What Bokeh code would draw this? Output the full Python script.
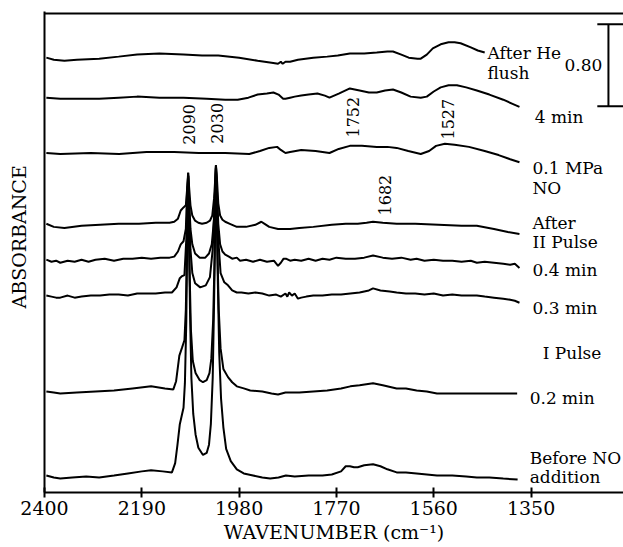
import numpy as np
from bokeh.plotting import figure
from bokeh.models import Range1d, FixedTicker, Span
from bokeh.core.properties import value
from bokeh.embed import file_html
from bokeh.resources import INLINE

# ---------------- data (wavenumber cm-1, relative absorbance) ----------------
after_he = [(2396,0.00),(2380,-0.02),(2357,-0.03),(2330,-0.02),(2282,-0.01),(2240,0.01),(2200,0.03),
            (2152,0.04),(2100,0.03),(2060,0.02),(2025,0.02),(1980,0.00),(1940,-0.03),(1910,-0.05),
            (1896,-0.06),(1890,-0.04),(1886,-0.06),(1880,-0.04),(1870,-0.04),(1853,-0.02),(1820,0.00),
            (1790,0.01),(1767,0.02),(1741,0.04),(1710,0.04),(1683,0.05),(1660,0.06),(1648,0.06),
            (1630,0.03),(1614,0.00),(1595,-0.01),(1588,-0.01),(1575,0.03),(1562,0.09),(1545,0.13),
            (1528,0.15),(1515,0.15),(1502,0.14),(1480,0.10),(1465,0.07),(1450,0.05)]

four_min = [(2396,0.00),(2366,-0.01),(2330,-0.01),(2282,-0.01),(2240,0.00),(2200,0.01),(2152,0.00),
            (2100,0.00),(2050,-0.01),(2010,-0.02),(1983,-0.02),(1960,0.00),(1940,0.03),(1920,0.04),
            (1906,0.05),(1895,0.03),(1885,-0.01),(1880,-0.01),(1870,0.00),(1860,0.01),(1846,0.02),
            (1830,0.03),(1811,0.04),(1795,0.02),(1785,0.00),(1765,0.04),(1741,0.09),(1720,0.07),
            (1700,0.05),(1683,0.05),(1665,0.07),(1648,0.08),(1630,0.05),(1610,0.01),(1588,0.00),
            (1575,0.01),(1560,0.06),(1545,0.10),(1528,0.12),(1510,0.12),(1490,0.10),(1467,0.07),
            (1440,0.03),(1410,-0.02),(1390,-0.06),(1375,-0.09)]

mpa_no = [(2396,0.00),(2366,-0.01),(2300,0.00),(2239,-0.01),(2180,0.01),(2120,0.01),(2067,0.00),
          (2010,0.00),(1958,-0.01),(1935,0.02),(1915,0.05),(1898,0.06),(1890,0.03),(1880,0.00),
          (1870,0.01),(1846,0.03),(1815,0.02),(1785,0.00),(1765,0.04),(1741,0.07),(1715,0.07),
          (1683,0.06),(1660,0.06),(1640,0.05),(1615,0.02),(1588,-0.01),(1570,0.02),(1555,0.07),
          (1536,0.09),(1515,0.08),(1484,0.06),(1450,0.02),(1420,-0.02),(1395,-0.06),(1375,-0.09)]

after_ii = [(2396,0.00),(2380,-0.03),(2357,-0.04),(2320,-0.02),(2280,-0.01),(2240,0.00),(2196,0.00),
            (2160,0.01),(2130,0.01),(2120,0.02),(2112,0.05),(2106,0.13),(2100,0.16),(2095,0.18),
            (2092,0.35),(2090,0.50),(2088,0.36),(2085,0.18),(2081,0.08),(2075,0.03),(2068,0.01),
            (2060,0.00),(2050,0.01),(2043,0.03),(2038,0.08),(2034,0.25),(2031,0.48),(2030,0.57),
            (2028,0.45),(2025,0.20),(2021,0.08),(2016,0.04),(2010,0.02),(2000,0.00),(1985,-0.03),
            (1965,-0.03),(1945,-0.01),(1932,0.02),(1925,0.00),(1915,-0.03),(1896,-0.05),(1870,-0.05),
            (1850,-0.04),(1820,-0.03),(1780,-0.01),(1750,0.00),(1724,0.00),(1705,0.01),(1691,0.02),
            (1670,0.01),(1640,0.00),(1600,0.00),(1550,-0.01),(1500,-0.02),(1467,-0.02),(1430,-0.05),
            (1400,-0.08),(1375,-0.10)]

min_04 = [(2396,0.00),(2385,-0.02),(2375,-0.01),(2366,-0.03),(2350,-0.01),(2335,-0.02),(2320,0.00),
          (2305,-0.02),(2290,0.00),(2270,0.01),(2250,-0.01),(2230,0.01),(2210,0.01),(2190,0.02),
          (2170,0.01),(2150,0.02),(2130,0.02),(2120,0.03),(2112,0.08),(2106,0.15),(2100,0.18),
          (2095,0.30),(2092,0.70),(2090,0.82),(2088,0.60),(2085,0.30),(2081,0.15),(2075,0.06),
          (2065,0.02),(2053,0.02),(2045,0.06),(2039,0.15),(2034,0.40),(2031,0.80),(2030,0.92),
          (2028,0.70),(2025,0.35),(2021,0.15),(2016,0.08),(2010,0.05),(2002,0.03),(1995,0.01),
          (1985,0.02),(1978,-0.01),(1965,0.00),(1950,-0.02),(1935,0.00),(1920,-0.02),(1905,-0.01),
          (1896,-0.06),(1890,-0.03),(1884,0.01),(1879,0.01),(1870,-0.01),(1860,0.00),(1846,-0.01),
          (1830,0.01),(1815,-0.01),(1800,0.01),(1785,0.00),(1770,0.02),(1750,0.01),(1730,0.01),
          (1710,0.02),(1691,0.04),(1670,0.02),(1650,0.01),(1630,0.02),(1610,0.00),(1597,0.01),
          (1580,-0.01),(1560,0.00),(1540,-0.01),(1520,-0.01),(1500,-0.02),(1480,-0.01),(1467,-0.03),
          (1450,-0.02),(1430,-0.03),(1410,-0.04),(1395,-0.05),(1385,-0.04),(1375,-0.08)]

min_03 = [(2396,0.00),(2385,-0.01),(2375,-0.02),(2366,-0.02),(2350,0.00),(2335,-0.02),(2320,-0.01),
          (2300,0.00),(2280,0.00),(2260,0.01),(2240,0.01),(2220,0.00),(2200,0.02),(2180,0.02),
          (2160,0.02),(2140,0.03),(2125,0.03),(2115,0.08),(2108,0.17),(2103,0.19),(2098,0.20),
          (2094,0.55),(2091,1.00),(2090,1.17),(2088,0.85),(2085,0.45),(2081,0.22),(2075,0.12),
          (2064,0.08),(2052,0.10),(2043,0.18),(2037,0.45),(2033,0.90),(2030,1.27),(2028,1.00),
          (2025,0.55),(2020,0.22),(2012,0.13),(2004,0.10),(1995,0.05),(1985,0.03),(1975,0.03),
          (1960,0.02),(1945,0.03),(1930,0.02),(1915,0.00),(1900,0.01),(1890,-0.01),(1880,0.02),
          (1876,-0.01),(1872,0.03),(1866,0.00),(1860,0.02),(1853,-0.03),(1846,-0.02),(1835,-0.01),
          (1820,0.00),(1800,0.00),(1780,0.01),(1760,0.01),(1740,0.02),(1720,0.03),(1700,0.05),
          (1691,0.07),(1675,0.05),(1655,0.04),(1640,0.03),(1620,0.02),(1600,0.02),(1580,0.01),
          (1560,0.02),(1540,0.00),(1520,0.01),(1500,0.00),(1480,0.00),(1467,0.00),(1450,-0.01),
          (1430,-0.02),(1410,-0.03),(1395,-0.04),(1385,-0.05),(1375,-0.07)]

min_02 = [(2396,0.00),(2380,-0.01),(2366,-0.02),(2330,-0.01),(2290,0.00),(2250,0.01),(2210,0.03),
          (2170,0.05),(2140,0.03),(2122,0.02),(2116,0.10),(2109,0.35),(2103,0.43),(2098,0.50),
          (2095,0.80),(2093,1.30),(2091,1.85),(2090,2.10),(2089,1.80),(2087,1.20),(2084,0.60),
          (2080,0.30),(2074,0.18),(2065,0.11),(2058,0.09),(2050,0.11),(2044,0.18),(2040,0.32),
          (2036,0.70),(2033,1.30),(2031,1.90),(2030,2.18),(2029,1.90),(2027,1.40),(2024,0.80),
          (2020,0.42),(2014,0.22),(2004,0.14),(1995,0.09),(1985,0.05),(1970,0.03),(1956,0.01),
          (1930,0.00),(1910,-0.02),(1896,-0.03),(1880,-0.01),(1850,-0.01),(1820,0.00),(1790,0.01),
          (1760,0.03),(1740,0.05),(1720,0.06),(1691,0.08),(1670,0.06),(1640,0.03),(1620,0.03),
          (1597,0.01),(1575,0.00),(1553,-0.02),(1520,-0.02),(1490,-0.02),(1460,-0.02),(1430,-0.02),
          (1400,-0.02),(1380,-0.02)]

before_no = [(2396,0.00),(2380,-0.02),(2366,-0.03),(2340,-0.02),(2310,-0.01),(2282,-0.02),(2250,0.00),
             (2220,0.02),(2190,0.04),(2170,0.05),(2145,0.04),(2125,0.03),(2118,0.12),(2113,0.30),
             (2108,0.50),(2104,0.58),(2100,0.66),(2097,0.90),(2094,1.50),(2092,2.30),(2090,2.95),
             (2088,2.30),(2086,1.60),(2083,0.95),(2079,0.60),(2074,0.40),(2068,0.27),(2058,0.20),
             (2050,0.22),(2045,0.30),(2041,0.50),(2037,0.95),(2034,1.70),(2031,2.60),(2030,3.00),
             (2028,2.60),(2026,1.90),(2023,1.20),(2019,0.75),(2014,0.47),(2008,0.26),(1998,0.14),
             (1985,0.06),(1970,0.02),(1950,0.00),(1930,-0.02),(1913,-0.03),(1895,-0.02),(1879,0.00),
             (1860,-0.01),(1830,0.00),(1800,0.00),(1780,0.01),(1760,0.04),(1750,0.09),(1741,0.09),
             (1732,0.08),(1724,0.08),(1710,0.10),(1691,0.11),(1675,0.09),(1660,0.06),(1640,0.03),
             (1620,0.03),(1597,0.02),(1575,0.01),(1553,0.00),(1520,0.00),(1490,-0.01),(1467,-0.02),
             (1440,-0.02),(1410,-0.03),(1379,-0.04)]

spectra = [after_he, four_min, mpa_no, after_ii, min_04, min_03, min_02, before_no]
offsets = [4.24, 3.85, 3.31, 2.62, 2.27, 1.92, 0.985, 0.166]

x_ticks = [2400, 2190, 1980, 1770, 1560, 1350]

trace_labels = ["After He", "flush", "4 min", "0.1 MPa", "NO", "After", "II Pulse",
                "0.4 min", "0.3 min", "I Pulse", "0.2 min", "Before NO", "addition"]
trace_label_x = [1444, 1444, 1342, 1347, 1347, 1347, 1347, 1347, 1347, 1325, 1353, 1353, 1353]
trace_label_y = [4.29, 4.09, 3.66, 3.16, 2.97, 2.63, 2.44, 2.17, 1.80, 1.36, 0.92, 0.34, 0.15]

peak_labels = ["2090", "2030", "1752", "1527", "1682"]
peak_label_x = [2088, 2027, 1734, 1530, 1665]
peak_label_y = [3.59, 3.60, 3.66, 3.64, 2.90]

scale_value = 0.80
scale_bottom = 3.766

# ---------------- figure ----------------
FONT = "DejaVu Serif"
p = figure(width=623, height=547, output_backend="svg", toolbar_location=None,
           x_range=Range1d(2400, 1150.5), y_range=Range1d(0, 4.69),
           min_border_left=44, min_border_right=0, min_border_top=11, min_border_bottom=55)
p.outline_line_color = None
p.grid.visible = False
p.background_fill_color = "white"
p.border_fill_color = "white"

for spec, off in zip(spectra, offsets):
    wn = [a for a, b in spec]
    ab = [b + off for a, b in spec]
    p.line(wn, ab, line_color="black", line_width=2)

# top frame line
p.add_layout(Span(location=4.67, dimension="width", line_color="black", line_width=2))

# scale bar
p.segment(x0=[1183, 1207, 1207], y0=[scale_bottom, scale_bottom + scale_value, scale_bottom],
          x1=[1183, 1150, 1150], y1=[scale_bottom + scale_value, scale_bottom + scale_value, scale_bottom],
          line_color="black", line_width=2)
p.text(x=[1278], y=[scale_bottom + scale_value / 2], text=["%.2f" % scale_value],
       text_font=value(FONT), text_font_size="17px", text_baseline="middle",
       text_align="left", text_color="black")

p.text(x=trace_label_x, y=trace_label_y, text=trace_labels, text_font=value(FONT),
       text_font_size="17px", text_baseline="middle", text_align="left", text_color="black")

p.text(x=peak_label_x, y=peak_label_y, text=peak_labels, angle=np.pi / 2,
       text_font=value(FONT), text_font_size="16px", text_baseline="middle",
       text_align="center", text_color="black")

# axes
xa = p.xaxis[0]
xa.ticker = FixedTicker(ticks=x_ticks)
xa.axis_label = "WAVENUMBER (cm\u207b\u00b9)"
xa.axis_line_width = 2
xa.major_tick_line_width = 2
xa.major_tick_in = 5
xa.major_tick_out = 5
xa.minor_tick_line_color = None
xa.major_label_text_font = FONT
xa.major_label_text_font_size = "19px"
xa.major_label_text_color = "black"
xa.major_label_standoff = 3
xa.axis_label_text_font = FONT
xa.axis_label_text_font_size = "19px"
xa.axis_label_text_font_style = "normal"
xa.axis_label_text_color = "black"
xa.axis_label_standoff = 3

ya = p.yaxis[0]
ya.ticker = FixedTicker(ticks=[])
ya.axis_label = "\u00a0\u00a0\u00a0\u00a0\u00a0ABSORBANCE"
ya.axis_line_width = 2
ya.major_tick_line_color = None
ya.minor_tick_line_color = None
ya.axis_label_text_font = FONT
ya.axis_label_text_font_size = "19px"
ya.axis_label_text_font_style = "normal"
ya.axis_label_text_color = "black"
ya.axis_label_standoff = 15

open("out.html", "w").write(file_html(p, INLINE))
